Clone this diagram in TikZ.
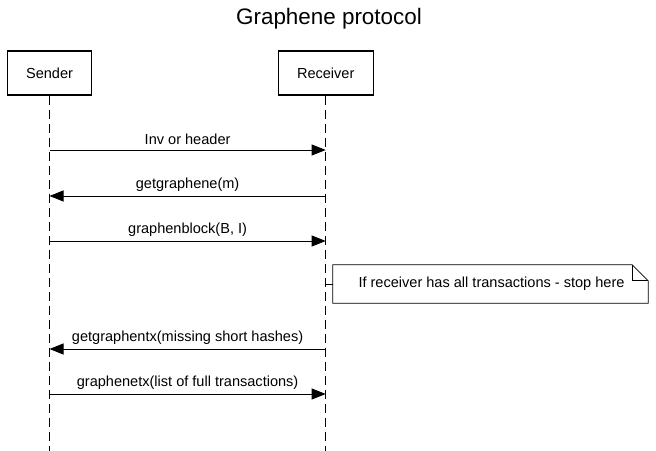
\documentclass[tikz,border=0pt]{standalone}
\usepackage{fontspec}
\setmainfont{Liberation Sans}
\usetikzlibrary{positioning,arrows.meta,calc}

\begin{document}
\begin{tikzpicture}[x=1bp,y=-1bp,
    every node/.style={font=\fontsize{14.6}{17}\selectfont},
    actor/.style={draw, line width=1.4pt, minimum height=44bp, inner sep=0pt},
    lifeline/.style={line width=0.8pt, dash pattern=on 9bp off 5bp},
    msg/.style={line width=0.8pt, -{Triangle[length=14bp,width=11bp]}},
    msglabel/.style={above=3.5bp, inner sep=1bp}
  ]
  \useasboundingbox (0,0) rectangle (656,451);

  \node[font=\fontsize{22.5}{26}\selectfont] (title) at (329,19) {Graphene protocol};

  % participants
  \node[actor, minimum width=84bp] (sender) at (49.5,73) {Sender};
  \node[actor, minimum width=95bp] (receiver) at (325.7,73) {Receiver};

  \coordinate (senderEnd) at (49.5,451);
  \coordinate (receiverEnd) at (325.7,451);
  \draw[lifeline] (sender.south) -- (senderEnd);
  \draw[lifeline] (receiver.south) -- (receiverEnd);

  % messages
  \foreach \y/\from/\to/\txt in {
    150/s/r/{Inv or header},
    196/r/s/{getgraphene(m)},
    241/s/r/{graphenblock(B, I)},
    349/r/s/{getgraphentx(missing short hashes)},
    394/s/r/{graphenetx(list of full transactions)}
  }{
    \coordinate (s\y) at (49.5,\y);
    \coordinate (r\y) at (325.7,\y);
    \draw[msg] (\from\y) -- node[msglabel] {\txt} (\to\y);
  }

  % note
  \node[minimum width=315bp, minimum height=38bp, inner sep=0pt] (note) at (490.5,284) {};
  \draw[line width=0.8pt, fill=white]
    (note.north west) -- ([xshift=-16bp]note.north east)
    -- ([yshift=-16bp]note.north east) -- (note.south east)
    -- (note.south west) -- cycle;
  \draw[line width=0.8pt] ([xshift=-16bp]note.north east)
    -- ([xshift=-16bp,yshift=-16bp]note.north east)
    -- ([yshift=-16bp]note.north east);
  \node[inner sep=0pt] (noteText) at ([xshift=1bp]note.center) {If receiver has all transactions - stop here};
  \coordinate (rNote) at (325.7,284);
  \draw[line width=0.8pt] (rNote) -- (note.west);
\end{tikzpicture}
\end{document}
